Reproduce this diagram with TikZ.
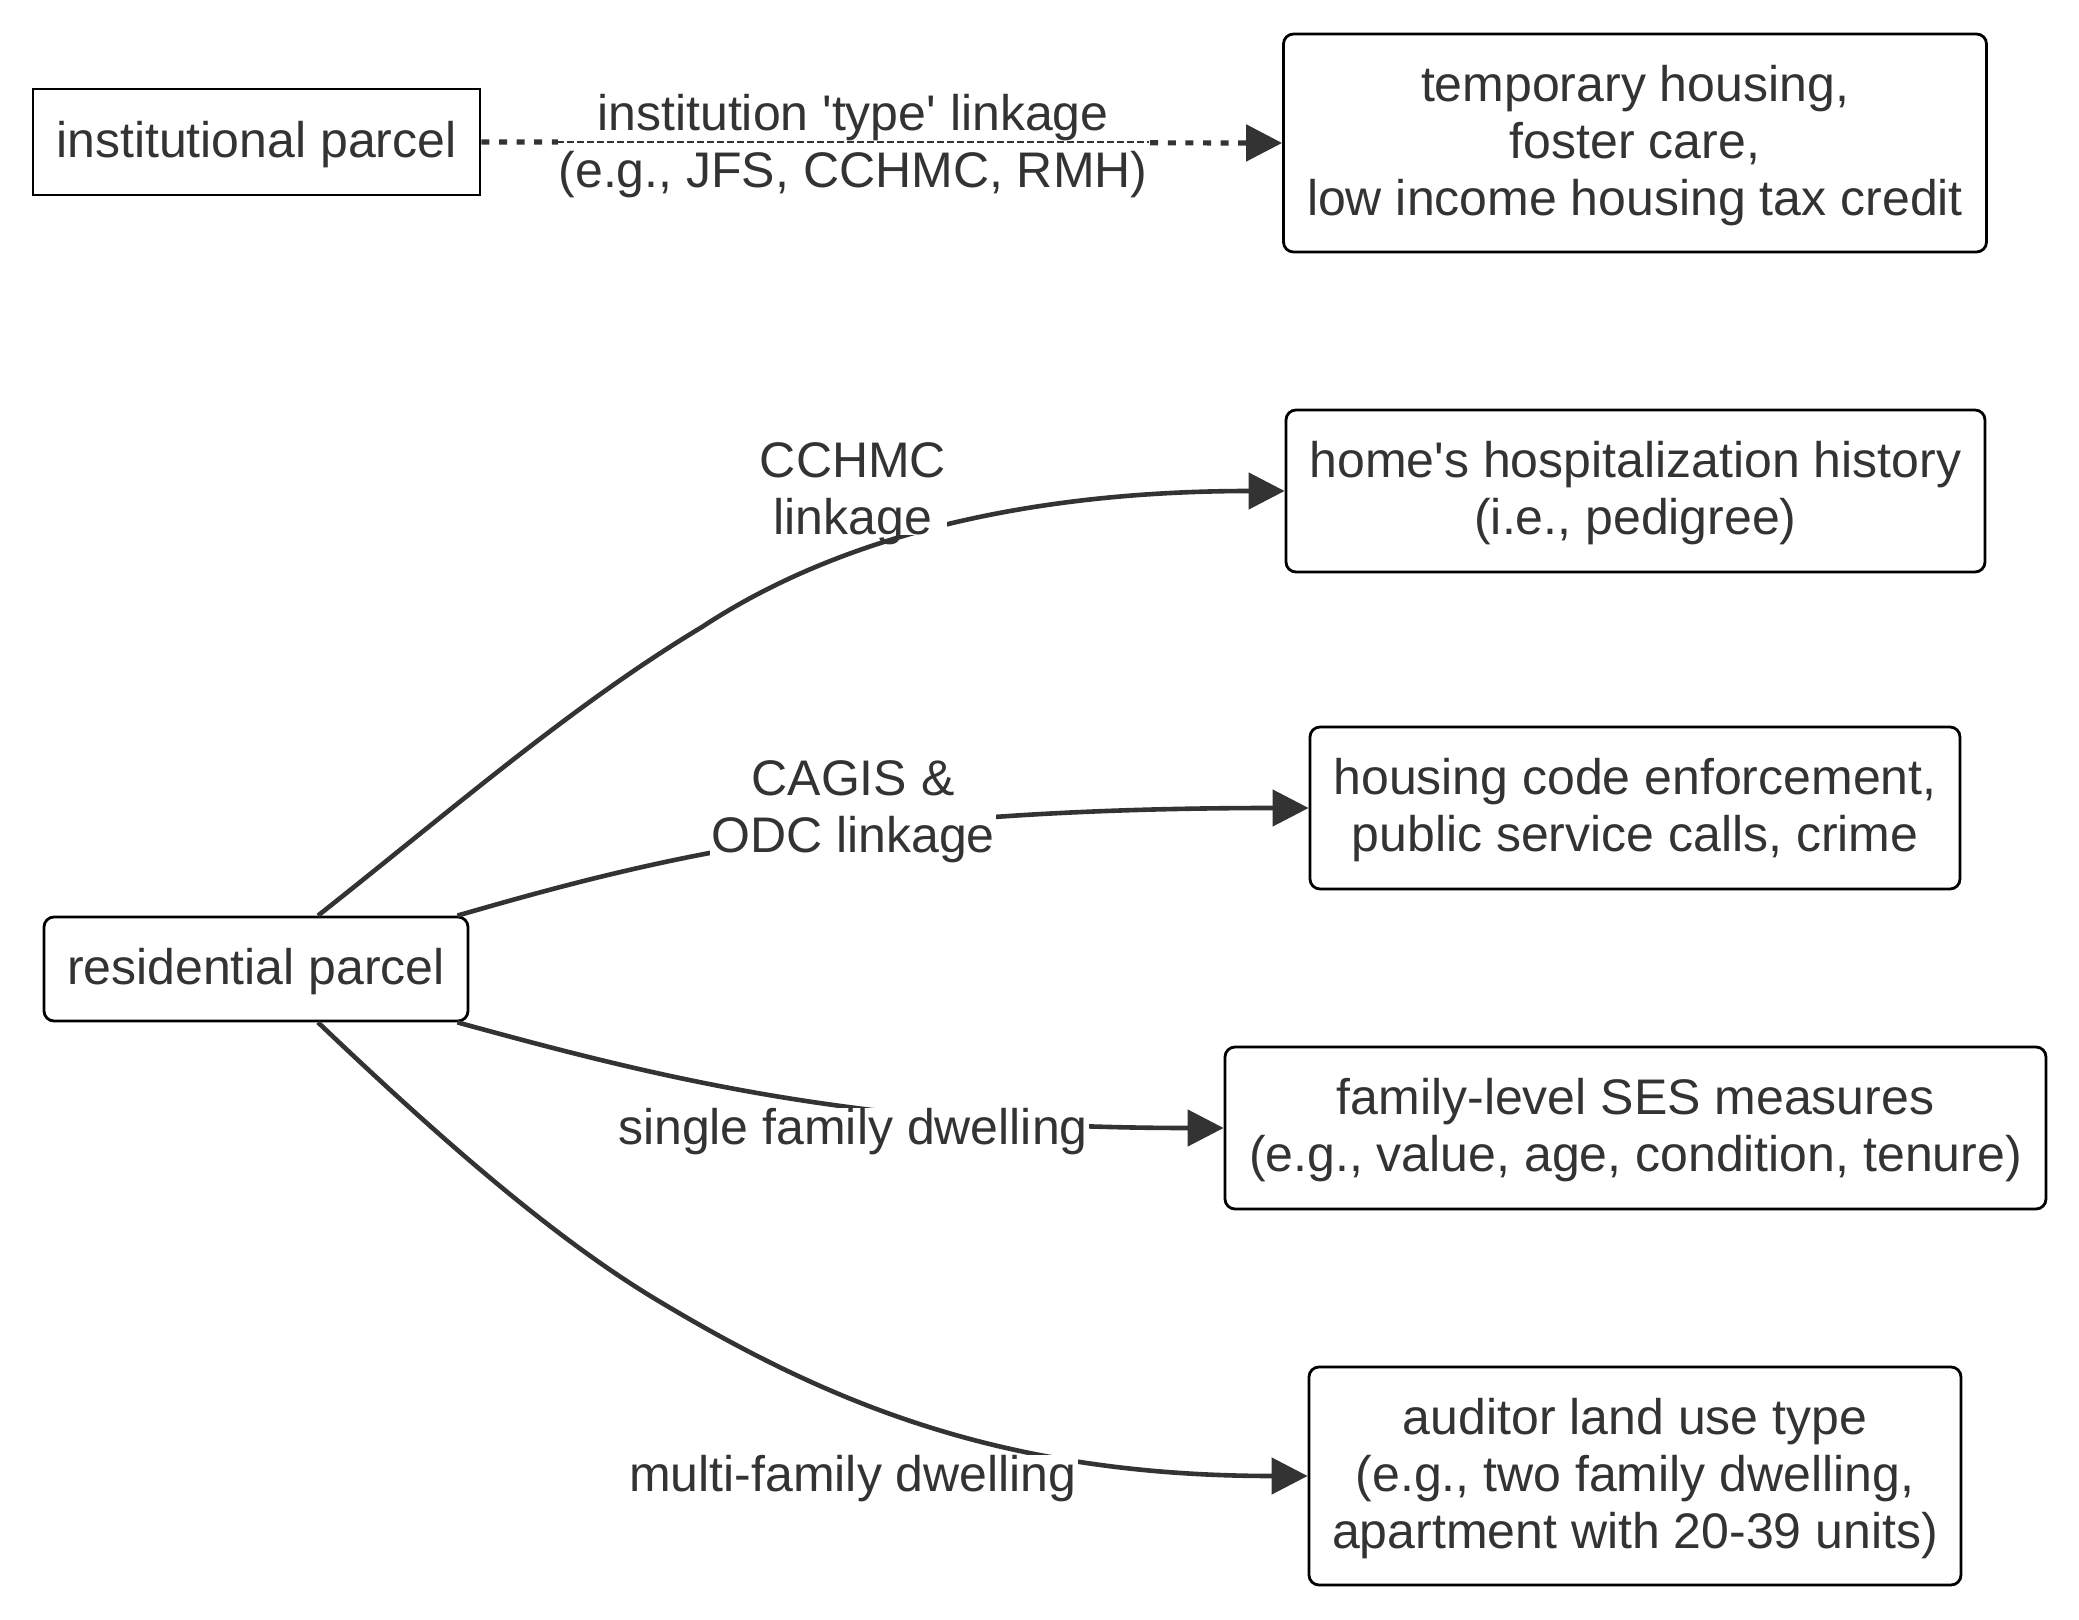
\documentclass[tikz,border=0pt]{standalone}
\usepackage{fontspec}
\setmainfont{Liberation Sans}
\usetikzlibrary{arrows.meta,calc}
\definecolor{ink}{HTML}{333333}
\newcommand\boxstrut{\rule{0pt}{20.4pt}}
\begin{document}
\begin{tikzpicture}[x=0.5pt,y=-0.5pt,
 box/.style={draw=black, line width=1.4pt, fill=white, text=ink, align=center, inner sep=0pt, font=\fontsize{25}{28.5}\selectfont},
 rbox/.style={box, rounded corners=5pt},
 lbl/.style={fill=white, text=ink, align=center, inner sep=0.5pt, font=\fontsize{25}{28.5}\selectfont},
 link/.style={draw=ink, line width=2.3pt, -{Triangle[length=18pt,width=18pt]}},
 dotlink/.style={link, line width=2.6pt, dash pattern=on 4pt off 4.8pt},
 thinline/.style={draw=ink, line width=0.6pt, dash pattern=on 3.3pt off 1.7pt},
]
\fill[white] (0,0) rectangle (2079,1620);
\useasboundingbox (0,0) rectangle (2079,1620);

% nodes
\node[box, minimum width=223.5pt, minimum height=53pt] (inst) at (256.5,142) {\boxstrut institutional parcel};
\node[rbox, minimum width=351.5pt, minimum height=109pt] (temp) at (1635,143) {\boxstrut temporary housing,\\foster care,\\low income housing tax credit};
\node[rbox, minimum width=212pt, minimum height=52pt] (res) at (256,969) {\boxstrut residential parcel};
\node[rbox, minimum width=349.5pt, minimum height=81pt] (home) at (1635.5,491) {\boxstrut home\textquotesingle s hospitalization history\\(i.e., pedigree)};
\node[rbox, minimum width=325pt, minimum height=81pt] (housing) at (1635,808) {\boxstrut housing code enforcement,\\public service calls, crime};
\node[rbox, minimum width=410.5pt, minimum height=81pt] (family) at (1635.5,1128) {\boxstrut family-level SES measures\\(e.g., value, age, condition, tenure)};
\node[rbox, minimum width=326pt, minimum height=109pt] (auditor) at (1635,1476) {\boxstrut auditor land use type\\(e.g., two family dwelling,\\apartment with 20-39 units)};

% waypoints of the long curves
\coordinate (w2) at (702,627);
\coordinate (w5) at (657,1300);

% connectors
\draw[dotlink] (inst.east) -- (temp.west);
\draw[link] ([xshift=31pt]res.north) .. controls (448,813) and (572,705) .. (w2)
  .. controls (852,528) and (1050,491) .. (home.west);
\draw[link] ([xshift=-6pt]res.north east) .. controls (650,860) and (850,808) .. (housing.west);
\draw[link] ([xshift=-6pt]res.south east) .. controls (650,1075) and (850,1128) .. (family.west);
\draw[link] ([xshift=31pt]res.south) .. controls (428,1127) and (547,1234) .. (w5)
  .. controls (827,1402) and (1000,1476) .. (auditor.west);

% labels
\node[lbl] (l1) at (853,146) {institution \textquotesingle type\textquotesingle\ linkage\\(e.g., JFS, CCHMC, RMH)};
\draw[thinline] (l1.west |- inst.east) -- (l1.east |- inst.east);
\node[lbl, text depth=0pt] (l2) at (853,488.5) {CCHMC\\linkage};
\node[lbl] (l3) at (853,812) {CAGIS \&\\ODC linkage};
\node[lbl] (l4) at (853,1132) {single family dwelling};
\node[lbl] (l5) at (853,1479) {multi-family dwelling};
\end{tikzpicture}
\end{document}
